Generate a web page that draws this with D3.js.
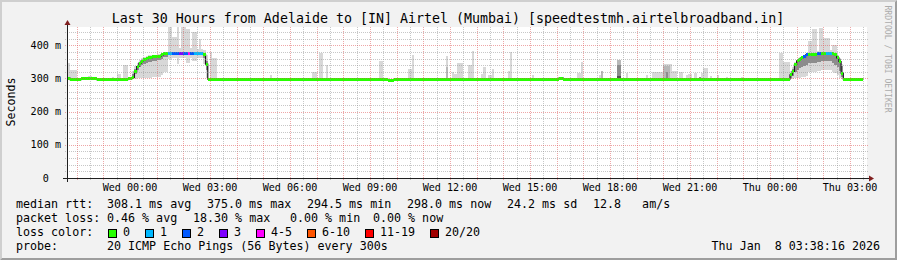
<!DOCTYPE html>
<html>
<head>
<meta charset="utf-8" />
<script src="https://d3js.org/d3.v7.min.js"></script>
<style>
  body { margin: 0; background: #f2f2f2; }
  svg { display: block; }
  text { font-family: "DejaVu Sans Mono", monospace; white-space: pre; fill: #000; }
</style>
</head>
<body>
<svg id="chart" width="897" height="260"></svg>
<script>

var title = "Last 30 Hours from Adelaide to [IN] Airtel (Mumbai) [speedtestmh.airtelbroadband.in]";
var startTime = "2026-01-06 21:38:16";
var endTime = "2026-01-08 03:38:16";

// median rtt steps: start, ms, lost pings, outer smoke lo/hi, inner smoke lo/hi
var medianRows = [
  ["01-06 21:35", 301, 0],
  ["01-06 21:45", 296, 0],
  ["01-06 22:10", 299, 0],
  ["01-06 22:25", 301, 0],
  ["01-06 22:35", 299, 0],
  ["01-06 22:45", 296, 0],
  ["01-06 23:55", 299, 0],
  ["01-07 00:05", 303, 0, 299, 322, 300, 312],
  ["01-07 00:10", 321, 0, 299, 338, 312, 328],
  ["01-07 00:15", 336, 0, 300, 348, 326, 342],
  ["01-07 00:20", 346, 0, 300, 356, 334, 351],
  ["01-07 00:25", 352, 0, 300, 362, 340, 357],
  ["01-07 00:30", 356, 0, 301, 365, 344, 360],
  ["01-07 00:35", 359, 0, 301, 368, 347, 363],
  ["01-07 00:40", 363, 0, 302, 370, 350, 366],
  ["01-07 00:50", 366, 0, 303, 372, 352, 369],
  ["01-07 01:00", 367, 0, 305, 375, 355, 370],
  ["01-07 01:10", 371, 0, 310, 378, 360, 374],
  ["01-07 01:15", 374, 0, 318, 380, 364, 377],
  ["01-07 01:25", 375, 1, 360, 392],
  ["01-07 01:35", 375, 2, 362, 392],
  ["01-07 01:50", 375, 3, 362, 392],
  ["01-07 02:00", 375, 2, 362, 392],
  ["01-07 02:10", 375, 4, 362, 392],
  ["01-07 02:15", 375, 2, 362, 392],
  ["01-07 02:25", 375, 1, 362, 390],
  ["01-07 02:45", 372, 0, 345, 385, 362, 376],
  ["01-07 02:50", 343, 0, 300, 372, 325, 352],
  ["01-07 02:55", 298, 0],
  ["01-07 09:40", 295, 0],
  ["01-07 09:55", 298, 0],
  ["01-07 16:05", 301, 0],
  ["01-07 16:15", 298, 0],
  ["01-08 00:45", 311, 0, 299, 322, 302, 316],
  ["01-08 00:50", 321, 0, 299, 335, 308, 327],
  ["01-08 00:55", 341, 0, 300, 350, 318, 346],
  ["01-08 01:00", 353, 0, 300, 360, 326, 357],
  ["01-08 01:05", 358, 0, 302, 365, 330, 362],
  ["01-08 01:10", 363, 0, 303, 368, 335, 366],
  ["01-08 01:15", 365, 2, 305, 372, 338, 369],
  ["01-08 01:20", 371, 2, 308, 376, 342, 374],
  ["01-08 01:25", 371, 0, 318, 380, 346, 375],
  ["01-08 01:40", 373, 0, 320, 382, 348, 377],
  ["01-08 01:45", 375, 2, 322, 383, 350, 378],
  ["01-08 01:55", 375, 0, 325, 384, 352, 378],
  ["01-08 02:05", 376, 1, 325, 385, 352, 380],
  ["01-08 02:20", 374, 0, 320, 383, 348, 378],
  ["01-08 02:25", 371, 0, 315, 378, 342, 375],
  ["01-08 02:30", 362, 0, 310, 372, 334, 368],
  ["01-08 02:35", 351, 0, 302, 362, 322, 358],
  ["01-08 02:40", 316, 0, 299, 345, 304, 336],
  ["01-08 02:45", 298, 0],
  ["01-08 03:30", null, 0]
];

// single smoke spikes: from, to, lowest ping, highest ping, shade
var spikes = [
  ["01-06 21:35", "01-06 21:45", 296, 348, 0],
  ["01-06 21:45", "01-06 22:00", 296, 324, 0],
  ["01-06 22:25", "01-06 22:35", 299, 308, 0],
  ["01-06 23:20", "01-06 23:25", 297, 305, 0],
  ["01-06 23:30", "01-06 23:40", 297, 312, 0],
  ["01-06 23:45", "01-06 23:55", 297, 342, 0],
  ["01-07 01:25", "01-07 01:35", 372, 455, 0],
  ["01-07 01:35", "01-07 01:45", 372, 425, 0],
  ["01-07 01:45", "01-07 01:50", 345, 455, 0],
  ["01-07 01:55", "01-07 02:05", 372, 455, 0],
  ["01-07 02:05", "01-07 02:15", 348, 450, 0],
  ["01-07 02:20", "01-07 02:30", 352, 440, 0],
  ["01-07 02:35", "01-07 02:40", 372, 420, 0],
  ["01-07 03:00", "01-07 03:05", 298, 380, 0],
  ["01-07 03:05", "01-07 03:15", 298, 362, 0],
  ["01-07 05:15", "01-07 05:20", 298, 310, 0],
  ["01-07 06:50", "01-07 07:00", 298, 318, 0],
  ["01-07 07:05", "01-07 07:15", 298, 378, 0],
  ["01-07 07:20", "01-07 07:25", 298, 340, 0],
  ["01-07 09:20", "01-07 09:30", 298, 352, 0],
  ["01-07 10:25", "01-07 10:35", 298, 327, 0],
  ["01-07 10:35", "01-07 10:40", 298, 370, 0],
  ["01-07 11:50", "01-07 11:55", 298, 367, 0],
  ["01-07 11:50", "01-07 11:55", 300, 335, 1],
  ["01-07 12:05", "01-07 12:10", 298, 319, 0],
  ["01-07 12:10", "01-07 12:15", 298, 312, 0],
  ["01-07 12:15", "01-07 12:30", 298, 348, 0],
  ["01-07 12:40", "01-07 12:50", 298, 340, 0],
  ["01-07 12:50", "01-07 12:55", 298, 383, 0],
  ["01-07 13:10", "01-07 13:15", 298, 312, 0],
  ["01-07 13:15", "01-07 13:20", 298, 333, 0],
  ["01-07 13:25", "01-07 13:35", 298, 309, 0],
  ["01-07 13:35", "01-07 13:40", 298, 327, 0],
  ["01-07 14:10", "01-07 14:15", 298, 322, 0],
  ["01-07 14:15", "01-07 14:20", 298, 380, 0],
  ["01-07 15:05", "01-07 15:10", 298, 309, 0],
  ["01-07 16:45", "01-07 16:55", 298, 315, 0],
  ["01-07 16:55", "01-07 17:00", 298, 351, 0],
  ["01-07 17:35", "01-07 17:40", 298, 309, 0],
  ["01-07 17:40", "01-07 17:45", 298, 322, 1],
  ["01-07 18:15", "01-07 18:25", 298, 355, 1],
  ["01-07 18:15", "01-07 18:25", 298, 340, 2],
  ["01-07 18:15", "01-07 18:25", 298, 306, 3],
  ["01-07 18:35", "01-07 18:40", 298, 315, 0],
  ["01-07 19:20", "01-07 19:25", 298, 309, 0],
  ["01-07 19:35", "01-07 20:00", 298, 319, 0],
  ["01-07 20:00", "01-07 20:20", 298, 345, 0],
  ["01-07 20:00", "01-07 20:15", 298, 338, 1],
  ["01-07 20:05", "01-07 20:10", 298, 318, 2],
  ["01-07 20:20", "01-07 20:30", 298, 322, 0],
  ["01-07 20:35", "01-07 20:45", 298, 320, 0],
  ["01-07 20:50", "01-07 20:55", 298, 309, 0],
  ["01-07 20:55", "01-07 21:05", 298, 312, 0],
  ["01-07 21:10", "01-07 21:15", 298, 317, 0],
  ["01-07 21:20", "01-07 21:25", 298, 305, 2],
  ["01-07 21:25", "01-07 21:30", 298, 317, 0],
  ["01-07 21:30", "01-07 21:40", 298, 330, 0],
  ["01-07 21:45", "01-07 21:50", 298, 308, 0],
  ["01-07 22:00", "01-07 22:05", 298, 309, 0],
  ["01-07 22:20", "01-07 22:25", 298, 305, 0],
  ["01-07 22:55", "01-07 23:00", 298, 305, 0],
  ["01-08 00:20", "01-08 00:30", 298, 378, 0],
  ["01-08 00:30", "01-08 00:45", 298, 350, 0],
  ["01-08 01:25", "01-08 01:35", 372, 412, 0],
  ["01-08 01:35", "01-08 01:45", 372, 448, 0],
  ["01-08 01:50", "01-08 02:00", 372, 452, 0],
  ["01-08 02:00", "01-08 02:15", 372, 422, 0],
  ["01-08 02:20", "01-08 02:30", 370, 402, 0]
];

var lossLevels = [0, 1, 2, 3, 4, 6, 11, 20];
var lossLabels = ["0", "1", "2", "3", "4-5", "6-10", "11-19", "20/20"];
var lossColors = ["#26ff00", "#00b8ff", "#0059ff", "#7e00ff", "#ff00ff", "#ff5500", "#ff0000", "#a10000"];
var smokeShades = ["#d8d8d8", "#b8b8b8", "#8c8c8c", "#505050"];

var yTicks = [0, 100, 200, 300, 400];
var yTickLabels = ["0  ", "100 m", "200 m", "300 m", "400 m"];

var rttLegend = ["median rtt:", "308.1 ms avg", "375.0 ms max", "294.5 ms min", "298.0 ms now", "24.2 ms sd", "12.8   am/s"];
var lossLegend = ["packet loss:", "0.46 % avg", "18.30 % max", "0.00 % min", "0.00 % now"];
var probeLegend = ["probe:", "20 ICMP Echo Pings (56 Bytes) every 300s"];
var stamp = "Thu Jan  8 03:38:16 2026";
var watermark = "RRDTOOL / TOBI OETIKER";

var W = 897, H = 260;
var plotLeft = 67, plotRight = 867, plotTop = 27, plotBottom = 178;

var parseFull = d3.timeParse("%Y-%m-%d %H:%M:%S");
var parseShort = d3.timeParse("%Y-%m-%d %H:%M");
function t(s) { return parseShort("2026-" + s); }

var x = d3.scaleTime().domain([parseFull(startTime), parseFull(endTime)]).range([plotLeft, plotRight]);
var y = d3.scaleLinear().domain([0, 455]).range([plotBottom, plotTop]);

function lossColor(n) {
  var idx = 0;
  lossLevels.forEach(function(l, i) { if (n >= l) idx = i; });
  return lossColors[idx];
}

var svg = d3.select("#chart");

// background and 3d border
svg.append("rect").attr("width", W).attr("height", H).attr("fill", "#f2f2f2");
svg.append("path").attr("fill", "#cfcfcf")
  .attr("d", "M0,0 L" + W + ",0 L" + (W - 2) + ",2 L2,2 L2," + (H - 2) + " L0," + H + "Z");
svg.append("path").attr("fill", "#9e9e9e")
  .attr("d", "M" + W + ",0 L" + W + "," + H + " L0," + H + " L2," + (H - 2) + " L" + (W - 2) + "," + (H - 2) + " L" + (W - 2) + ",2Z");

svg.append("rect")
  .attr("x", plotLeft).attr("y", plotTop)
  .attr("width", plotRight - plotLeft).attr("height", plotBottom - plotTop)
  .attr("fill", "#fff");

svg.append("clipPath").attr("id", "plotclip")
  .append("rect").attr("x", plotLeft).attr("y", plotTop)
  .attr("width", plotRight - plotLeft).attr("height", plotBottom - plotTop);

var plot = svg.append("g").attr("clip-path", "url(#plotclip)")
  .attr("shape-rendering", "crispEdges");

// smoke
var steps = medianRows.slice(0, -1).map(function(r, i) {
  return { t0: t(r[0]), t1: t(medianRows[i + 1][0]), med: r[1], loss: r[2],
           oLo: r[3], oHi: r[4], iLo: r[5], iHi: r[6] };
});

plot.selectAll(".outer").data(steps.filter(function(d) { return d.oLo != null; })).enter().append("rect")
  .attr("x", function(d) { return x(d.t0); })
  .attr("width", function(d) { return x(d.t1) - x(d.t0); })
  .attr("y", function(d) { return y(d.oHi); })
  .attr("height", function(d) { return y(d.oLo) - y(d.oHi); })
  .attr("fill", smokeShades[0]);

plot.selectAll(".spike").data(spikes).enter().append("rect")
  .attr("x", function(d) { return x(t(d[0])); })
  .attr("width", function(d) { return x(t(d[1])) - x(t(d[0])); })
  .attr("y", function(d) { return y(d[3]); })
  .attr("height", function(d) { return y(d[2]) - y(d[3]); })
  .attr("fill", function(d) { return smokeShades[d[4]]; });

plot.selectAll(".inner").data(steps.filter(function(d) { return d.iLo != null; })).enter().append("rect")
  .attr("x", function(d) { return x(d.t0); })
  .attr("width", function(d) { return x(d.t1) - x(d.t0); })
  .attr("y", function(d) { return y(d.iHi); })
  .attr("height", function(d) { return y(d.iLo) - y(d.iHi); })
  .attr("fill", smokeShades[2]);

// grid
var grid = svg.append("g").attr("shape-rendering", "crispEdges");
var hours = d3.timeHour.every(1).range(x.domain()[0], x.domain()[1]);
var halves = d3.timeMinute.every(30).range(x.domain()[0], x.domain()[1])
  .filter(function(d) { return d.getMinutes() !== 0; });
var minorColor = "rgba(143,143,143,0.5)";
var majorColor = "rgba(222,79,79,0.5)";

grid.selectAll(".vminor").data(halves).enter().append("line")
  .attr("x1", function(d) { return Math.round(x(d)) + 0.5; })
  .attr("x2", function(d) { return Math.round(x(d)) + 0.5; })
  .attr("y1", plotTop).attr("y2", plotBottom + 2)
  .attr("stroke", minorColor).attr("stroke-dasharray", "1,1");

grid.selectAll(".vmajor").data(hours).enter().append("line")
  .attr("x1", function(d) { return Math.round(x(d)) + 0.5; })
  .attr("x2", function(d) { return Math.round(x(d)) + 0.5; })
  .attr("y1", plotTop).attr("y2", plotBottom + 2)
  .attr("stroke", majorColor).attr("stroke-dasharray", "1,1");

var yMinor = d3.range(20, 455, 20).filter(function(v) { return v % 100 !== 0; });
grid.selectAll(".hminor").data(yMinor).enter().append("line")
  .attr("x1", plotLeft - 2).attr("x2", plotRight + 2)
  .attr("y1", function(d) { return Math.round(y(d)) + 0.5; })
  .attr("y2", function(d) { return Math.round(y(d)) + 0.5; })
  .attr("stroke", minorColor).attr("stroke-dasharray", "1,1");

grid.selectAll(".hmajor").data(yTicks.slice(1)).enter().append("line")
  .attr("x1", plotLeft - 2).attr("x2", plotRight + 2)
  .attr("y1", function(d) { return Math.round(y(d)) + 0.5; })
  .attr("y2", function(d) { return Math.round(y(d)) + 0.5; })
  .attr("stroke", majorColor).attr("stroke-dasharray", "1,1");

// median: thin dark step line, then the loss-coloured band on top
var medSteps = steps.filter(function(d) { return d.med != null; });
var stepLine = d3.line()
  .x(function(d) { return x(d.t0); })
  .y(function(d) { return y(d.med); })
  .curve(d3.curveStepAfter);
plot.append("path")
  .datum(medSteps.concat([{ t0: medSteps[medSteps.length - 1].t1, med: medSteps[medSteps.length - 1].med }]))
  .attr("d", stepLine)
  .attr("fill", "none").attr("stroke", "#1a1a1a").attr("stroke-width", 1.2)
  .attr("shape-rendering", "auto");

plot.selectAll(".median").data(medSteps).enter().append("rect")
  .attr("x", function(d) { return x(d.t0); })
  .attr("width", function(d) { return x(d.t1) - x(d.t0); })
  .attr("y", function(d) { return y(d.med) - 1.5; })
  .attr("height", 3)
  .attr("fill", function(d) { return lossColor(d.loss); });

// axes
var axis = svg.append("g").attr("shape-rendering", "crispEdges");
axis.append("line").attr("x1", plotLeft - 4).attr("x2", plotRight + 4)
  .attr("y1", plotBottom + 0.5).attr("y2", plotBottom + 0.5).attr("stroke", "#1f1f1f");
axis.append("line").attr("x1", plotLeft + 0.5).attr("x2", plotLeft + 0.5)
  .attr("y1", plotBottom + 4).attr("y2", plotTop - 4).attr("stroke", "#1f1f1f");
svg.append("path").attr("fill", "#801f1f")
  .attr("d", "M" + (plotRight + 2) + "," + (plotBottom - 2.5) + " L" + (plotRight + 2) + "," + (plotBottom + 3.5) +
             " L" + (plotRight + 7) + "," + (plotBottom + 0.5) + "Z");
svg.append("path").attr("fill", "#801f1f")
  .attr("d", "M" + (plotLeft - 2.5) + "," + (plotTop - 2) + " L" + (plotLeft + 3.5) + "," + (plotTop - 2) +
             " L" + (plotLeft + 0.5) + "," + (plotTop - 7) + "Z");

// tick labels
var fmt = d3.timeFormat("%a %H:%M");
svg.selectAll(".xlab").data(d3.timeHour.every(3).range(x.domain()[0], x.domain()[1])).enter().append("text")
  .attr("x", function(d) { return x(d); })
  .attr("y", 191)
  .attr("text-anchor", "middle")
  .attr("font-size", "10.1px")
  .text(function(d) { return fmt(d); });

svg.selectAll(".ylab").data(yTicks).enter().append("text")
  .attr("x", 61)
  .attr("y", function(d) { return y(d) + 3.5; })
  .attr("text-anchor", "end")
  .attr("font-size", "10.1px")
  .text(function(d, i) { return yTickLabels[i]; });

svg.append("text")
  .attr("transform", "translate(15,102) rotate(-90)")
  .attr("text-anchor", "middle")
  .attr("font-size", "11.6px")
  .text("Seconds");

svg.append("text")
  .attr("x", 448).attr("y", 23)
  .attr("text-anchor", "middle")
  .attr("font-size", "13.3px")
  .text(title);

svg.append("text")
  .attr("transform", "translate(885,59) rotate(90)")
  .attr("text-anchor", "middle")
  .attr("font-size", "8.1px")
  .style("fill", "#acacac")
  .text(watermark);

// legend
var legendFont = "11.66px";
var rttX = [16, 107, 207, 307, 407, 507, 593];
var lossX = [16, 107, 193, 290, 373];

svg.selectAll(".rtt").data(rttLegend).enter().append("text")
  .attr("x", function(d, i) { return rttX[i]; })
  .attr("y", 208).attr("font-size", legendFont)
  .text(function(d) { return d; });

svg.selectAll(".pl").data(lossLegend).enter().append("text")
  .attr("x", function(d, i) { return lossX[i]; })
  .attr("y", 222).attr("font-size", legendFont)
  .text(function(d) { return d; });

svg.append("text").attr("x", 16).attr("y", 236).attr("font-size", legendFont).text("loss color:");

var bx = 108;
lossLabels.forEach(function(lab, i) {
  svg.append("rect")
    .attr("x", bx + 0.5).attr("y", 229.5).attr("width", 8).attr("height", 8)
    .attr("fill", lossColors[i]).attr("stroke", "#000")
    .attr("shape-rendering", "crispEdges");
  var tx = svg.append("text").attr("x", bx + 15).attr("y", 236)
    .attr("font-size", legendFont).text(lab);
  bx = Math.round(bx + 15 + tx.node().getComputedTextLength() + 15.4);
});

svg.selectAll(".probe").data(probeLegend).enter().append("text")
  .attr("x", function(d, i) { return i === 0 ? 16 : 107; })
  .attr("y", 250).attr("font-size", legendFont)
  .text(function(d) { return d; });

svg.append("text").attr("x", 880).attr("y", 250)
  .attr("text-anchor", "end").attr("font-size", legendFont)
  .text(stamp);

</script>
</body>
</html>
